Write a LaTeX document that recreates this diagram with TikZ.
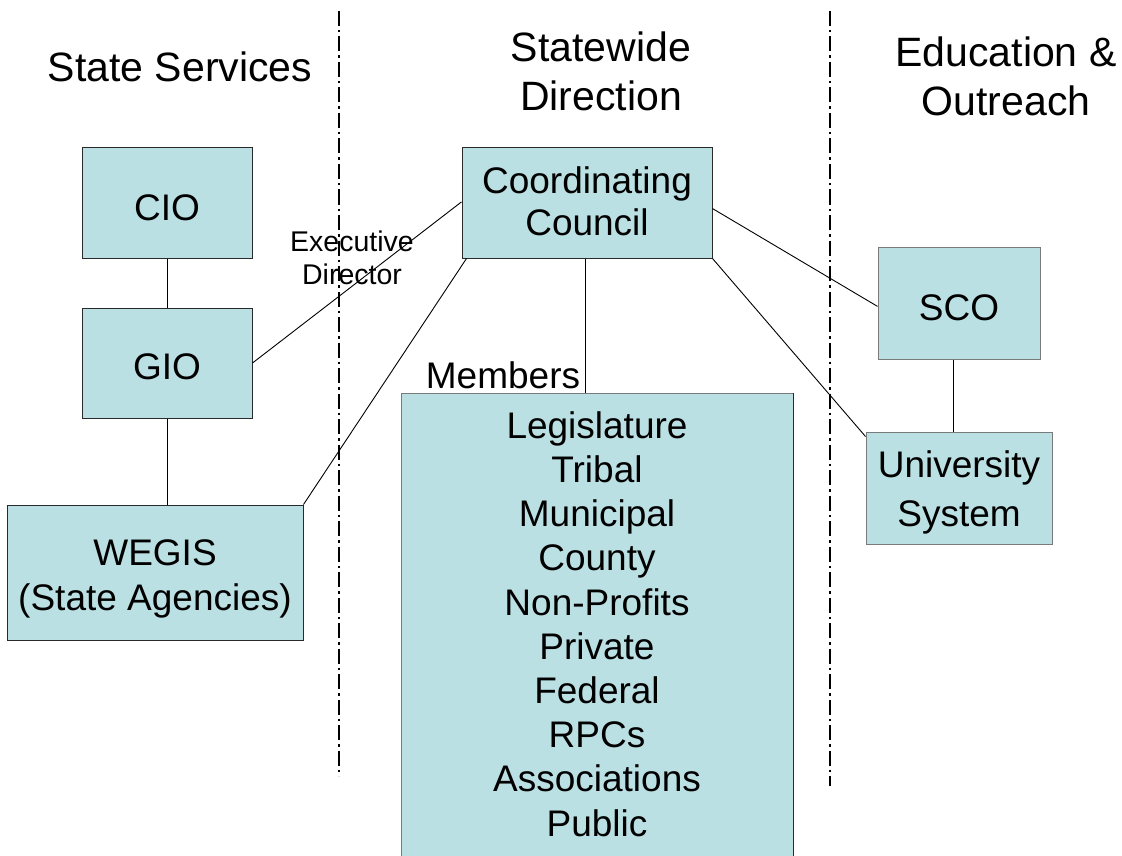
\documentclass[tikz,border=0pt]{standalone}
\usepackage{fontspec}
\setmainfont{Liberation Sans}
\usetikzlibrary{calc}
\definecolor{boxfill}{HTML}{BBE0E3}
\definecolor{darkedge}{HTML}{2A2A2A}
\definecolor{lightedge}{HTML}{7A7A7A}
\begin{document}
\begin{tikzpicture}[x=1pt,y=-1pt,
  box/.style={rectangle, fill=boxfill, draw=darkedge, line width=1pt, inner sep=0pt},
  lbox/.style={box, draw=lightedge},
  title/.style={inner sep=0pt, align=center, font=\fontsize{41}{49}\selectfont},
  lbl/.style={inner sep=0pt, align=center, font=\fontsize{37}{44}\selectfont},
  small/.style={inner sep=0pt, align=center, font=\fontsize{28.5}{33}\selectfont},
  conn/.style={line width=0.9pt, black},
  divider/.style={line width=2.2pt, black, dash pattern=on 15pt off 4pt on 2.5pt off 4pt}]
\useasboundingbox (0,0) rectangle (1122,856);

% dividers
\coordinate (d1t) at (339,11);
\coordinate (d1b) at (339,776);
\coordinate (d2t) at (830,11);
\coordinate (d2b) at (830,786);
\draw[divider] (d1t) -- (d1b);
\draw[divider] (d2t) -- (d2b);

% titles
\node[title] (t1) at (180,67) {State Services};
\node[title] (t2) at (601,71.5) {Statewide\\Direction};
\node[title] (t3) at (1006,76) {Education \&\\Outreach};

% boxes
\node[box, minimum width=170pt, minimum height=110pt] (cio) at (167,203) {};
\node[box, minimum width=170pt, minimum height=110pt] (gio) at (167,363) {};
\node[box, minimum width=296pt, minimum height=135pt] (wegis) at (155,572.5) {};
\node[box, minimum width=250pt, minimum height=110pt] (council) at (587,203) {};
\node[lbox, minimum width=392pt, minimum height=487pt] (members) at (597,636.5) {};
\draw[darkedge, line width=1pt] (members.north east) -- (members.south east);
\node[lbox, minimum width=162pt, minimum height=112pt] (sco) at (959,303) {};
\node[lbox, minimum width=186pt, minimum height=112pt] (univ) at (959,488) {};

% box texts
\node[lbl] (ciotext) at (167,207.5) {CIO};
\node[lbl] (giotext) at (167,367) {GIO};
\node[lbl, font=\fontsize{37}{45}\selectfont] (wegistext) at (155,579) {WEGIS\\(State Agencies)};
\node[lbl, font=\fontsize{37}{42}\selectfont] (counciltext) at (587,201) {Coordinating\\Council};
\node[lbl] (scotext) at (959,307.5) {SCO};
\node[lbl, font=\fontsize{37}{49}\selectfont] (univtext) at (959,492.5) {University\\System};

% member list
\node[inner sep=0pt, align=center, font=\fontsize{37}{44.2}\selectfont] (mlist) at (597,624)
  {Legislature\\Tribal\\Municipal\\County\\Non-Profits\\Private\\Federal\\RPCs\\Associations\\Public};

% labels
\node[small] (exec) at (352,258) {Executive\\Director};
\node[lbl] (memlbl) at (503,375) {Members};

% connectors
\draw[conn] (cio.south) -- (gio.north);
\draw[conn] (gio.south) -- (gio.south |- wegis.north);
\draw[conn] (gio.east) -- ($(council.north west)!0.49!(council.south west)$);
\draw[conn] (wegis.north east) -- ($(council.south west)+(5,0)$);
\draw[conn] ($(council.south)+(-2,0)$) -- ($(council.south |- members.north)+(-2,0)$);
\draw[conn] ($(council.north east)!0.55!(council.south east)$) -- ($(sco.north west)!0.53!(sco.south west)$);
\draw[conn] (council.south east) -- ($(univ.north west)+(0,5)$);
\draw[conn] ($(sco.south)+(-6,0)$) -- ($(sco.south |- univ.north)+(-6,0)$);
\end{tikzpicture}
\end{document}
